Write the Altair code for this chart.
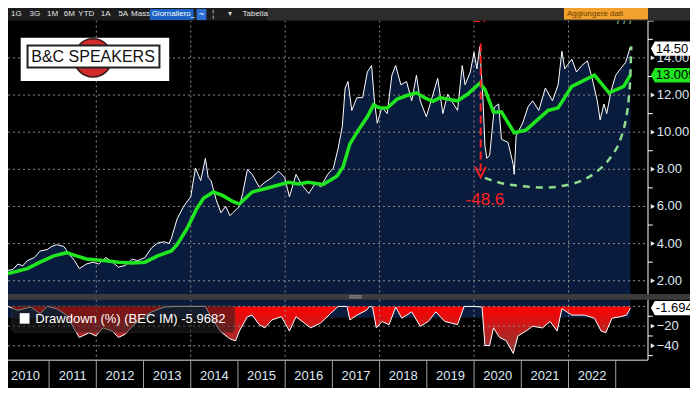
import math
import altair as alt
import pandas as pd

# ------------------------------------------------------------------ data
price_year = [2010.13, 2010.23, 2010.34, 2010.44, 2010.54, 2010.69, 2010.81, 2010.96, 2011.06, 2011.16,
              2011.31, 2011.43, 2011.54, 2011.64, 2011.79, 2011.93, 2012.05, 2012.20, 2012.34, 2012.47,
              2012.61, 2012.76, 2012.88, 2013.03, 2013.17, 2013.30, 2013.44, 2013.54, 2013.59, 2013.65,
              2013.71, 2013.85, 2014.00, 2014.10, 2014.21, 2014.31, 2014.37, 2014.43, 2014.54, 2014.64,
              2014.74, 2014.83, 2014.89, 2015.03, 2015.10, 2015.20, 2015.30, 2015.45, 2015.57, 2015.72,
              2015.86, 2015.99, 2016.09, 2016.23, 2016.34, 2016.50, 2016.65, 2016.75, 2016.90, 2017.02,
              2017.12, 2017.21, 2017.27, 2017.33, 2017.41, 2017.52, 2017.64, 2017.74, 2017.83, 2017.89,
              2017.95, 2018.05, 2018.16, 2018.26, 2018.34, 2018.45, 2018.57, 2018.68, 2018.78, 2018.86,
              2018.99, 2019.09, 2019.23, 2019.34, 2019.44, 2019.65, 2019.75, 2019.81, 2019.92, 2020.00,
              2020.06, 2020.12, 2020.19, 2020.23, 2020.27, 2020.33, 2020.43, 2020.52, 2020.58, 2020.72,
              2020.83, 2020.85, 2020.89, 2021.03, 2021.14, 2021.24, 2021.37, 2021.51, 2021.66, 2021.78,
              2021.86, 2021.92, 2022.07, 2022.17, 2022.28, 2022.40, 2022.50, 2022.61, 2022.67, 2022.75,
              2022.81, 2022.90, 2023.00, 2023.10, 2023.21, 2023.31]
price_value = [2.56, 2.60, 2.90, 2.80, 3.08, 3.25, 3.60, 3.68, 3.85, 3.94,
               3.85, 3.42, 3.08, 2.65, 2.90, 3.00, 2.90, 3.25, 3.00, 2.73,
               2.82, 3.16, 3.08, 3.25, 3.77, 4.03, 4.10, 4.00, 4.28, 4.80,
               5.32, 6.01, 6.52, 8.07, 7.39, 8.59, 7.56, 7.39, 6.35, 5.66,
               6.01, 5.50, 5.66, 6.00, 6.70, 7.99, 7.73, 7.04, 7.30, 7.56,
               7.90, 7.56, 6.52, 7.73, 7.21, 6.70, 7.30, 7.04, 7.73, 8.07,
               9.11, 10.31, 12.38, 12.73, 11.17, 11.86, 11.86, 13.24, 13.59, 11.69,
               10.48, 11.35, 11.00, 13.07, 13.59, 12.55, 12.73, 11.69, 13.07, 11.69,
               10.83, 11.69, 12.90, 11.00, 12.04, 11.17, 13.59, 12.55, 13.24, 14.30,
               13.41, 14.60, 11.69, 9.28, 8.59, 8.76, 11.35, 11.52, 9.62, 9.45,
               8.25, 7.73, 9.80, 10.49, 11.35, 11.69, 11.17, 12.38, 11.69, 12.55,
               14.36, 13.41, 13.93, 13.24, 13.59, 13.84, 12.90, 11.69, 10.66, 11.52,
               11.00, 12.21, 13.07, 13.41, 13.76, 14.60]

ma_year = [2010.13, 2010.54, 2010.81, 2011.10, 2011.37, 2011.58, 2011.79, 2012.20, 2012.47, 2012.76,
           2013.03, 2013.30, 2013.59, 2013.71, 2013.92, 2014.12, 2014.27, 2014.48, 2014.68, 2014.89,
           2015.03, 2015.30, 2015.57, 2016.07, 2016.28, 2016.48, 2016.81, 2017.10, 2017.23, 2017.37,
           2017.58, 2017.74, 2017.87, 2017.99, 2018.16, 2018.37, 2018.61, 2018.78, 2018.97, 2019.13,
           2019.28, 2019.44, 2019.65, 2019.86, 2020.12, 2020.23, 2020.41, 2020.58, 2020.85, 2021.10,
           2021.30, 2021.57, 2021.78, 2022.07, 2022.55, 2022.86, 2023.17, 2023.31]
ma_value = [2.39, 2.65, 3.00, 3.34, 3.51, 3.34, 3.17, 3.08, 3.00, 2.96,
            3.00, 3.34, 3.60, 3.94, 4.80, 5.84, 6.44, 6.78, 6.58, 6.27,
            6.13, 6.78, 6.95, 7.30, 7.21, 7.30, 7.18, 7.64, 8.16, 9.37,
            10.23, 10.83, 11.47, 11.31, 11.30, 11.78, 12.00, 12.12, 11.83, 11.66,
            11.86, 11.78, 11.69, 12.04, 12.64, 12.30, 11.09, 11.09, 9.97, 10.11,
            10.57, 11.17, 11.31, 12.47, 13.07, 12.12, 12.47, 13.07]

dd_year = [2010.13, 2010.34, 2010.61, 2010.81, 2010.96, 2011.16, 2011.37, 2011.52, 2011.64, 2011.85,
           2011.99, 2012.14, 2012.34, 2012.47, 2012.61, 2012.76, 2012.96, 2013.17, 2013.44, 2013.71,
           2014.00, 2014.31, 2014.41, 2014.62, 2014.83, 2014.95, 2015.03, 2015.20, 2015.30, 2015.45,
           2015.57, 2015.72, 2015.92, 2016.09, 2016.23, 2016.54, 2016.75, 2016.96, 2017.12, 2017.31,
           2017.37, 2017.52, 2017.72, 2017.79, 2017.85, 2017.93, 2018.05, 2018.20, 2018.34, 2018.47,
           2018.68, 2018.86, 2019.03, 2019.19, 2019.38, 2019.65, 2019.79, 2020.00, 2020.17, 2020.23,
           2020.33, 2020.41, 2020.54, 2020.68, 2020.83, 2020.93, 2021.10, 2021.24, 2021.45, 2021.61,
           2021.76, 2021.86, 2022.07, 2022.34, 2022.55, 2022.69, 2022.79, 2022.92, 2023.10, 2023.23,
           2023.31]
dd_value = [0.0, -3.9, -0.6, -7.2, 0.0, -2.3, -8.8, -21.8, -31.5, -26.7,
            -29.9, -21.8, -25.0, -31.5, -28.3, -20.2, -12.0, -5.5, -0.6, 0.0,
            0.0, 0.0, -8.8, -25.0, -33.0, -35.0, -25.0, -10.4, -8.8, -18.5,
            -21.8, -13.7, -10.4, -25.0, -10.4, -21.8, -16.9, -7.2, 0.0, 0.0,
            -13.7, -8.8, -3.9, 0.0, -0.6, -21.8, -15.3, -18.5, -0.6, -12.0,
            -5.5, -20.2, -15.3, -5.5, -15.3, -18.5, 0.0, 0.0, -0.6, -39.7,
            -39.7, -21.8, -31.5, -34.8, -47.8, -29.9, -25.0, -20.2, -21.8, -15.3,
            -25.0, -2.3, -8.8, -8.8, -12.0, -25.0, -26.7, -12.0, -10.4, -8.8,
            -1.7]

arc_year = [2020.23, 2020.54, 2020.89, 2021.51, 2021.92, 2022.28, 2022.61, 2022.90, 2023.10, 2023.21,
            2023.27, 2023.31, 2023.33]
arc_value = [7.54, 7.28, 7.13, 7.02, 7.13, 7.39, 7.90, 8.68, 9.61, 10.64, 11.67, 13.07, 14.62]

crash_year = [2020.14]
crash_top = [14.78]
crash_bottom = [7.90]
arrow_value = [7.85]
max_dd_label = ["-48.6"]
max_dd_year = [2020.23]
max_dd_value = [6.35]
peak_label = ["17"]
peak_label_value = [15.75]
slash_label = ["/ / /"]
slash_year = [2023.19]
slash_value = [15.70]

price_ticks = [2, 4, 6, 8, 10, 12, 14]
price_minor = [3, 5, 7, 9, 11, 13, 15]
dd_grid = [0, -20, -40]
dd_ticks = [-20, -40]
dd_minor = [-10, -30, -50]
grid_years = [2012, 2014, 2016, 2018, 2020, 2022]
year_starts = [2011, 2012, 2013, 2014, 2015, 2016, 2017, 2018, 2019, 2020, 2021, 2022, 2023]
year_labels = ["2010", "2011", "2012", "2013", "2014", "2015", "2016", "2017", "2018", "2019",
               "2020", "2021", "2022"]

last_price = [14.50]
last_price_label = ["14.50"]
last_ma = [13.07]
last_ma_label = ["13.0094"]
last_dd = [-1.694]
last_dd_label = ["-1.694"]
legend_label = ["Drawdown (%) (BEC IM) -5.9682"]

toolbar_labels = ["1G", "3G", "1M", "6M", "YTD", "1A", "5A", "Mass"]
toolbar_left = [3, 22, 40, 57, 72, 95, 113, 126]
logo_label = ["B&C SPEAKERS"]

# ------------------------------------------------------------------ layout helpers
W, H = 682, 380
SX, SY = W / 698.0, H / 396.0


def px(v):
    return round(v * SX, 2)


def py(v):
    return round(v * SY, 2)


FONT = "Liberation Sans"
NAVY = "#0a1c3d"
GREEN = "#1fe61f"
RED = "#ff1f1f"
AXIS_TXT = "#dfe8f5"
GRID = "#8c8c8c"

XS = alt.Scale(domain=[2010.13, 2024.573], range=[0, W], nice=False, zero=False)
PS = alt.Scale(domain=[1.287, 16.016], range=[py(298), py(13)], nice=False, zero=False)
DS = alt.Scale(domain=[-54.6, 6.83], range=[py(367), py(304)], nice=False, zero=False)


def X(f):
    return alt.X(f, type="quantitative", scale=XS, axis=None)


def YP(f):
    return alt.Y(f, type="quantitative", scale=PS, axis=None)


def YD(f):
    return alt.Y(f, type="quantitative", scale=DS, axis=None)


ONE = pd.DataFrame({"k": [0]})


def box(x1, x2, y1, y2, **kw):
    return alt.Chart(ONE).mark_rect(**kw).encode(
        x=alt.value(px(x1)), x2=alt.value(px(x2)), y=alt.value(py(y1)), y2=alt.value(py(y2)))


def hline(x1, x2, y, **kw):
    return alt.Chart(ONE).mark_rule(**kw).encode(
        x=alt.value(px(x1)), x2=alt.value(px(x2)), y=alt.value(py(y)))


def vline(x, y1, y2, **kw):
    return alt.Chart(ONE).mark_rule(**kw).encode(
        x=alt.value(px(x)), y=alt.value(py(y1)), y2=alt.value(py(y2)))


def label(text, x, y, **kw):
    return alt.Chart(pd.DataFrame({"t": [text]})).mark_text(**kw).encode(
        x=alt.value(px(x)), y=alt.value(py(y)), text="t:N")


price_df = pd.DataFrame({"year": price_year, "price": price_value})
ma_df = pd.DataFrame({"year": ma_year, "price": ma_value})
dd_df = pd.DataFrame({"year": dd_year, "dd": dd_value})
arc_df = pd.DataFrame({"year": arc_year, "price": arc_value})

L = []

# ---------------- top panel
L.append(alt.Chart(price_df).mark_area(color=NAVY).encode(
    x=X("year"), y=YP("price"), y2=alt.value(py(298))))
L.append(alt.Chart(pd.DataFrame({"v": price_ticks})).mark_rule(
    color=GRID, strokeDash=[2, 3], strokeWidth=1).encode(
    y=YP("v"), x=alt.value(0), x2=alt.value(px(655))))
L.append(alt.Chart(pd.DataFrame({"year": grid_years})).mark_rule(
    color=GRID, strokeDash=[2, 3], strokeWidth=1).encode(
    x=X("year"), y=alt.value(py(13)), y2=alt.value(py(298))))
L.append(alt.Chart(price_df).mark_line(color="#ffffff", strokeWidth=1).encode(
    x=X("year"), y=YP("price")))
L.append(alt.Chart(ma_df).mark_line(color=GREEN, strokeWidth=3.5).encode(
    x=X("year"), y=YP("price")))
L.append(alt.Chart(arc_df).mark_line(color="#8fdc8f", strokeWidth=2.5, strokeDash=[7, 6],
                                     interpolate="monotone").encode(
    x=X("year"), y=YP("price")))

crash_df = pd.DataFrame({"year": crash_year, "top": crash_top, "bot": crash_bottom,
                         "arrow": arrow_value})
L.append(alt.Chart(crash_df).mark_rule(color=RED, strokeWidth=2, strokeDash=[8, 4]).encode(
    x=X("year"), y=YP("top"), y2=alt.Y2("bot")))
L.append(alt.Chart(crash_df).mark_point(shape="M-1,-1L0,1L1,-1", filled=False, color=RED,
                                        strokeWidth=2, size=110, opacity=1).encode(
    x=X("year"), y=YP("arrow")))
L.append(alt.Chart(pd.DataFrame({"year": max_dd_year, "v": max_dd_value, "t": max_dd_label}))
         .mark_text(color=RED, fontSize=17, font=FONT, align="center", baseline="middle").encode(
    x=X("year"), y=YP("v"), text="t:N"))
L.append(alt.Chart(pd.DataFrame({"year": crash_year, "v": peak_label_value, "t": peak_label}))
         .mark_text(color=RED, fontSize=14, font=FONT, align="center", baseline="bottom").encode(
    x=X("year"), y=YP("v"), text="t:N"))
L.append(alt.Chart(pd.DataFrame({"year": slash_year, "v": slash_value, "t": slash_label}))
         .mark_text(color="#9be09b", fontSize=11, font=FONT, align="center", baseline="bottom").encode(
    x=X("year"), y=YP("v"), text="t:N"))

# ---------------- bottom panel
dd_grad = alt.Gradient(gradient="linear", x1=0, x2=0, y1=0, y2=1,
                       stops=[alt.GradientStop(color="#ff0000", offset=0),
                              alt.GradientStop(color="#c01e1e", offset=0.5),
                              alt.GradientStop(color="#8e3a3a", offset=1)])
L.append(alt.Chart(dd_df).mark_area(color=dd_grad).encode(
    x=X("year"), y=YD("dd"), y2=alt.datum(0)))
L.append(alt.Chart(pd.DataFrame({"v": dd_grid})).mark_rule(
    color=GRID, strokeDash=[2, 3], strokeWidth=1).encode(
    y=YD("v"), x=alt.value(0), x2=alt.value(px(655))))
L.append(alt.Chart(pd.DataFrame({"year": grid_years})).mark_rule(
    color=GRID, strokeDash=[2, 3], strokeWidth=1).encode(
    x=X("year"), y=alt.value(py(304)), y2=alt.value(py(367))))
L.append(alt.Chart(dd_df).mark_line(color="#ffffff", strokeWidth=1).encode(
    x=X("year"), y=YD("dd")))

# legend box
L.append(box(4, 232, 310, 338, fill="#202020", opacity=0.55, cornerRadius=3,
             stroke="#3a3a3a", strokeWidth=1))
L.append(box(12, 22, 318, 329, fill="#ffffff"))
L.append(alt.Chart(pd.DataFrame({"t": legend_label})).mark_text(
    color="#ffffff", fontSize=13, font=FONT, align="left", baseline="middle").encode(
    x=alt.value(px(28)), y=alt.value(py(324)), text="t:N"))

# divider between panels
L.append(box(0, 698, 298, 304, fill="#3b3b3b"))
L.append(hline(349, 362, 300, color="#9a9a9a", strokeWidth=1))
L.append(hline(349, 362, 302, color="#9a9a9a", strokeWidth=1))

# ---------------- axes
L.append(vline(655, 13, 298, color="#ffffff", strokeWidth=1))
L.append(vline(655, 304, 367, color="#ffffff", strokeWidth=1))
L.append(hline(655, 661, 13.5, color="#ffffff", strokeWidth=1))
L.append(hline(0, 655, 367, color="#e8e8e8", strokeWidth=1))

L.append(alt.Chart(pd.DataFrame({"v": price_minor})).mark_rule(color="#ffffff", strokeWidth=1).encode(
    y=YP("v"), x=alt.value(px(655)), x2=alt.value(px(660))))
L.append(alt.Chart(pd.DataFrame({"v": price_ticks})).mark_point(
    shape="triangle-right", filled=True, size=24, color=AXIS_TXT, opacity=1).encode(
    y=YP("v"), x=alt.value(px(660))))
L.append(alt.Chart(pd.DataFrame({"v": price_ticks})).mark_text(
    color=AXIS_TXT, fontSize=13, font=FONT, align="left", baseline="middle").encode(
    y=YP("v"), x=alt.value(px(664)), text=alt.Text("v:Q", format=".2f")))

L.append(alt.Chart(pd.DataFrame({"v": dd_minor})).mark_rule(color="#ffffff", strokeWidth=1).encode(
    y=YD("v"), x=alt.value(px(655)), x2=alt.value(px(660))))
L.append(alt.Chart(pd.DataFrame({"v": dd_ticks})).mark_point(
    shape="triangle-right", filled=True, size=24, color=AXIS_TXT, opacity=1).encode(
    y=YD("v"), x=alt.value(px(660))))
L.append(alt.Chart(pd.DataFrame({"v": dd_ticks})).mark_text(
    color=AXIS_TXT, fontSize=13, font=FONT, align="left", baseline="middle").encode(
    y=YD("v"), x=alt.value(px(664)), text=alt.Text("v:Q", format="d")))

L.append(alt.Chart(pd.DataFrame({"year": year_starts})).mark_rule(color="#a0a0a0", strokeWidth=1).encode(
    x=X("year"), y=alt.value(py(367)), y2=alt.value(py(396))))
yl = pd.DataFrame({"t": year_labels, "mid": [int(s) + 0.5 for s in year_labels]})
L.append(alt.Chart(yl).mark_text(color=AXIS_TXT, fontSize=13, font=FONT, align="center",
                                 baseline="middle").encode(
    x=X("mid"), y=alt.value(py(384)), text="t:N"))

# ---------------- value tags on the right axis
TAG = "M-1,0L-0.8,-0.37L1,-0.37L1,0.37L-0.8,0.37Z"
TAG_SIZE = (40 * SX) ** 2
tag_specs = [
    (last_price, last_price_label, "#ffffff", YP),
    (last_ma, last_ma_label, GREEN, YP),
    (last_dd, last_dd_label, "#ffffff", YD),
]
for vals, labs, col, yf in tag_specs:
    tdf = pd.DataFrame({"v": vals, "t": labs})
    L.append(alt.Chart(tdf).mark_point(shape=TAG, filled=True, color=col, size=TAG_SIZE,
                                       opacity=1).encode(y=yf("v"), x=alt.value(px(678))))
    L.append(alt.Chart(tdf).mark_text(color="#000000", fontSize=13, font=FONT, align="left",
                                      baseline="middle").encode(
        y=yf("v"), x=alt.value(px(663)), text="t:N"))

# ---------------- toolbar
L.append(box(0, 698, 0, 13, fill="#1c1c1c"))
L.append(box(265, 698, 0, 13, fill="#2c2c2c"))
tb = pd.DataFrame({"t": toolbar_labels, "x": [px(v) for v in toolbar_left]})
L.append(alt.Chart(tb).mark_text(color="#e6e6e6", fontSize=8, font=FONT, align="left",
                                 baseline="middle").encode(
    x=alt.X("x:Q", scale=None, axis=None), y=alt.value(py(6.5)), text="t:N"))
L.append(box(145, 190, 1, 12.5, fill="#1a62c4"))
L.append(label("Giornaliero_", 147, 6.5, color="#ffffff", fontSize=8, font=FONT, align="left",
               baseline="middle"))
L.append(box(193, 203, 1, 12.5, fill="#2c6fd6"))
L.append(label("~", 198, 6.5, color="#ffffff", fontSize=9, font=FONT, align="center",
               baseline="middle"))
L.append(label("¦", 210, 6.5, color="#cfcfcf", fontSize=9, font=FONT, align="center",
               baseline="middle"))
L.append(label("▾", 227, 6.5, color="#cfcfcf", fontSize=8, font=FONT, align="center",
               baseline="middle"))
L.append(label("Tabella", 240, 6.5, color="#e6e6e6", fontSize=8, font=FONT, align="left",
               baseline="middle"))
L.append(box(569, 655, 0, 12, fill="#f2a22c"))
L.append(label("Aggiungere dati", 572, 6.5, color="#6b3a00", fontSize=8, font=FONT,
               align="left", baseline="middle"))

# ---------------- logo
L.append(box(13, 165, 31, 76, fill="#ffffff"))
L.append(alt.Chart(ONE).mark_point(shape="circle", filled=True, color="#d12b2b", opacity=1,
                                   size=math.pi * (22 * SX) ** 2, stroke="#3a1a1a",
                                   strokeWidth=1.5).encode(
    x=alt.value(px(87)), y=alt.value(py(52))))
L.append(box(20, 155, 39, 62, fill="#ffffff", stroke="#222222", strokeWidth=2))
L.append(alt.Chart(pd.DataFrame({"t": logo_label})).mark_text(
    color="#111111", fontSize=16, font=FONT, align="center", baseline="middle").encode(
    x=alt.value(px(87)), y=alt.value(py(51)), text="t:N"))

chart = alt.layer(*L).resolve_scale(x="independent", y="independent").properties(
    width=W, height=H, padding=0, autosize=alt.AutoSizeParams(type="none"),
    background="#000000").configure_view(stroke=None)

chart.save("out.html", embed_options={"renderer": "svg", "actions": False})
